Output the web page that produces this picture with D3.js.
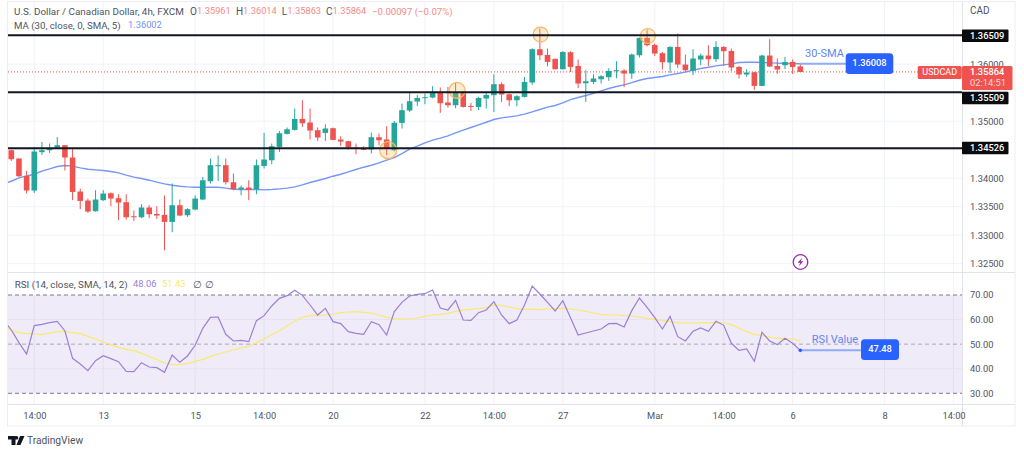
<!DOCTYPE html>
<html>
<head>
<meta charset="utf-8">
<script src="https://cdn.jsdelivr.net/npm/d3@7"></script>
<style>
    html, body {margin: 0; padding: 0; background: #fff;}
    svg {display: block;}
    text {font-family: Roboto, sans-serif;}
</style>
</head>
<body>
<div id="chart"></div>
<script>
// USD/CAD 4h candles, open high low close in 1e-5 price points
const ohlc = [
[134491,134500,134303,134333],[134345,134350,134022,134035],[134040,134128,133731,133784],[133784,134549,133742,134468],
[134456,134636,134408,134491],[134491,134608,134443,134531],[134538,134719,134535,134579],[134579,134579,134135,134363],
[134363,134538,133614,133759],[133766,133819,133456,133601],[133608,133643,133391,133415],[133421,133789,133412,133626],
[133614,133789,133601,133731],[133736,133749,133508,133643],[133649,133719,133263,133573],[133579,133719,133275,133315],
[133333,133433,133250,133315],[133315,133543,133298,133486],[133486,133526,133298,133368],[133373,133508,133286,133345],
[133356,133696,132736,133233],[133233,133907,133052,133526],[133526,133626,133333,133345],[133350,133473,133321,133456],
[133450,133696,133438,133643],[133626,134022,133614,133964],[133947,134345,133907,134228],[134210,134398,133952,134228],
[134228,134345,133889,133929],[133929,134082,133789,133807],[133807,133871,133701,133836],[133836,133964,133614,133794],
[133807,134328,133719,134228],[134215,134794,134170,134328],[134315,134608,134245,134561],[134549,134829,134461,134789],
[134777,134889,134766,134859],[134847,135222,134836,135040],[135040,135368,134900,134964],[134977,135222,134679,134836],
[134842,134889,134654,134714],[134794,134947,134654,134872],[134877,134889,134666,134672],[134679,134736,134566,134643],
[134649,134654,134503,134538],[134538,134608,134421,134514],[134514,134561,134491,134503],[134503,134801,134433,134719],
[134719,134784,134579,134666],[134679,134912,134403,134517],[134491,135005,134473,134973],[134970,135310,134872,135193],
[135187,135496,135163,135350],[135345,135456,135268,135408],[135403,135486,135298,135421],[135415,135614,135403,135514],
[135514,135591,135145,135315],[135328,135601,135240,135280],[135280,135672,135228,135514],[135514,135526,135240,135250],
[135268,135321,135180,135250],[135250,135426,135193,135408],[135398,135514,135222,135461],[135456,135824,135163,135649],
[135649,135679,135338,135468],[135473,135486,135263,135368],[135368,135456,135263,135438],[135426,135777,135415,135689],
[135679,136280,135636,136263],[136263,136626,136070,136157],[136163,136275,135964,136040],[136093,136100,135907,135912],
[135912,136228,135907,136215],[136210,136228,135864,135952],[135970,136082,135579,135661],[135666,135894,135338,135701],
[135689,135824,135649,135749],[135736,135807,135661,135789],[135772,135929,135707,135882],[135882,136052,135754,135894],
[135889,135912,135601,135836],[135836,136187,135742,136170],[136157,136468,136117,136461],[136461,136608,136315,136333],
[136338,136363,136145,136187],[136193,136215,135907,136035],[136029,136315,135847,136303],[136303,136538,135935,135994],
[135994,136170,135864,135894],[135882,136263,135807,136100],[136082,136187,135982,136152],[136152,136333,135970,136087],
[136087,136403,136040,136303],[136303,136315,135970,136228],[136233,136275,135882,135942],[135952,135970,135749,135819],
[135819,135912,135777,135854],[135859,135864,135549,135619],[135619,136163,135614,136152],[136152,136438,135947,135959],
[135970,136100,135829,135907],[135982,136128,135912,136040],[136040,136082,135829,135952],[135961,136014,135863,135864]
];

// 30 SMA, first value sits one bar left of the first candle
const sma = [133906,133947,134006,134041,134070,134123,134164,134205,134222,134211,134181,134158,134146,134134,134117,
134094,134053,134018,133994,133965,133930,133901,133877,133860,133848,133842,133842,133842,133842,133825,133807,133801,
133801,133801,133795,133801,133813,133825,133848,133883,133924,133959,133994,134035,134070,134111,134152,134193,134228,
134269,134316,134363,134433,134509,134561,134620,134667,134702,134743,134795,134842,134889,134936,134982,135029,135058,
135076,135094,135123,135164,135205,135246,135275,135322,135380,135415,135450,135491,135532,135573,135608,135637,135678,
135719,135749,135766,135784,135813,135836,135860,135895,135924,135947,135971,135988,136006,136029,136035,136035,136029,
136023,136018,136012,136012,136008];

const rsi = [59.83,55.76,50.61,46.0,57.53,58.07,58.75,59.29,55.36,44.24,41.93,39.22,43.29,45.32,44.10,42.88,38.95,38.81,
42.47,40.71,40.44,38.54,45.59,42.61,45.19,49.53,56.44,60.92,61.05,54.0,51.29,51.56,51.02,59.56,61.59,65.53,68.64,69.73,
71.90,69.86,65.93,61.86,64.58,59.15,58.34,55.08,54.41,54.0,59.15,57.93,53.73,63.22,67.02,69.59,70.27,70.54,72.03,64.71,
63.9,67.83,59.83,59.69,62.81,63.9,67.29,61.86,58.34,59.83,65.93,73.66,70.41,67.02,63.49,67.69,60.78,53.73,54.54,55.36,
56.17,58.34,58.47,56.98,63.63,68.78,64.98,60.78,56.17,61.32,53.05,51.29,55.22,56.58,55.22,59.29,57.66,50.34,47.49,48.03,
43.02,54.81,51.29,49.80,52.37,50.34,47.48];

const rsiMa = [57.12,55.63,54.81,54.27,54.14,53.86,54.54,55.08,55.22,54.68,54.27,53.19,52.10,50.88,49.80,48.71,47.90,47.36,
46.27,45.05,43.69,42.34,41.80,41.66,42.07,43.02,43.83,44.92,46.0,46.81,47.63,48.44,49.12,50.61,52.10,53.86,55.49,57.39,
59.42,60.92,61.59,61.59,61.86,62.27,62.81,63.08,63.22,62.95,62.68,61.86,60.92,60.37,60.24,60.24,60.64,61.32,61.86,62.14,
62.54,63.36,63.9,64.17,64.44,64.85,65.93,65.8,65.12,64.44,64.17,64.17,64.03,64.31,64.44,64.58,64.31,63.9,63.36,62.68,62.0,
61.86,61.86,61.59,61.46,61.05,60.51,60.1,59.69,59.15,58.75,58.61,58.61,58.75,58.75,58.75,58.61,57.93,56.58,55.08,53.86,
53.46,52.92,52.37,52.37,52.10,51.43];

const levels = [1.36509, 1.35509, 1.34526];
// orange circles, bar index + price
const circles = [
    {i: 49.2, p: 1.34491, r: 8.5},
    {i: 58.2, p: 1.35541, r: 8},
    {i: 69.1, p: 1.36520, r: 7.5},
    {i: 83.1, p: 1.36495, r: 7.5}
];

const width = 1024;
const height = 454;
const left = 8, right = 962, axisRight = 1015;
const red = "#ef5350", green = "#26a69a", blue = "#7796f5", tagBlue = "#2962ff";
const grey = "#50535e", gridCol = "#f0f3fa", border = "#e0e3eb";
const numSize = 9.3, textSize = 10;

let svg = d3.select("#chart")
            .append("svg")
            .attr("height", height)
            .attr("width", width);

let x = d3.scaleLinear().domain([0, 103]).range([11.3, 800.3]);
let y = d3.scaleLinear().domain([1.325, 1.365]).range([263.7, 35.7]);
let yRsi = d3.scaleLinear().domain([30, 70]).range([393.3, 295]);

svg.append("clipPath").attr("id", "plot")
    .append("rect").attr("x", left).attr("y", 0).attr("width", right - left).attr("height", 404);

// frame
svg.append("rect").attr("x", 7.5).attr("y", 1.5).attr("width", axisRight - 7.5).attr("height", 424.5)
    .style("fill", "none").style("stroke", "#eceef3");

// grid
const timeTicks = [3, 12, 24, 33, 42, 54, 63, 72, 84, 93, 102, 114, 123];
const timeNames = ["14:00", "13", "15", "14:00", "20", "22", "14:00", "27", "Mar", "14:00", "6", "8", "14:00"];
const priceTicks = [1.325, 1.33, 1.335, 1.34, 1.345, 1.35, 1.355, 1.36, 1.365];
const priceNames = [1.325, 1.33, 1.335, 1.34, 1.35, 1.36];

svg.append("g").selectAll("line").data(timeTicks).enter().append("line")
    .attr("x1", d => x(d)).attr("x2", d => x(d)).attr("y1", 2).attr("y2", 404)
    .style("stroke", gridCol);
svg.append("g").selectAll("line").data(priceTicks).enter().append("line")
    .attr("x1", left).attr("x2", right).attr("y1", d => y(d)).attr("y2", d => y(d))
    .style("stroke", gridCol);

// pane borders
[[left, axisRight, 272.5, 272.5], [left, axisRight, 404.5, 404.5], [right + 0.5, right + 0.5, 2, 426]].forEach(function(s) {
    svg.append("line").attr("x1", s[0]).attr("x2", s[1]).attr("y1", s[2]).attr("y2", s[3]).style("stroke", border);
});

// rsi pane background
svg.append("rect").attr("x", left).attr("width", right - left)
    .attr("y", yRsi(70)).attr("height", yRsi(30) - yRsi(70))
    .style("fill", "#7e57c2").style("opacity", 0.12);
svg.append("g").selectAll("line").data([40, 60]).enter().append("line")
    .attr("x1", left).attr("x2", right).attr("y1", d => yRsi(d)).attr("y2", d => yRsi(d))
    .style("stroke", "#e6e3f0");
svg.append("g").selectAll("line").data([30, 50, 70]).enter().append("line")
    .attr("x1", left).attr("x2", right).attr("y1", d => yRsi(d)).attr("y2", d => yRsi(d))
    .style("stroke", d => d == 50 ? "#a9a8b2" : "#787b86")
    .style("stroke-dasharray", "4,3");

let plot = svg.append("g").attr("clip-path", "url(#plot)");

// last price dotted line
plot.append("line").attr("x1", left).attr("x2", 918).attr("y1", y(1.35864)).attr("y2", y(1.35864))
    .style("stroke", red).style("stroke-dasharray", "1,2");

// sma drawn under the candles
let smaLine = d3.line().x((d, i) => x(i - 1)).y(d => y(d / 1e5));
plot.append("path").attr("d", smaLine(sma))
    .style("fill", "none").style("stroke", blue).style("stroke-width", 1.4);

// candles
let candles = plot.append("g").selectAll("g").data(ohlc).enter().append("g");
candles.append("line")
    .attr("x1", (d, i) => x(i)).attr("x2", (d, i) => x(i))
    .attr("y1", d => y(d[1] / 1e5)).attr("y2", d => y(d[2] / 1e5))
    .style("stroke", d => d[3] >= d[0] ? green : red);
candles.append("rect")
    .attr("x", (d, i) => x(i) - 2.8).attr("width", 5.6)
    .attr("y", d => y(Math.max(d[0], d[3]) / 1e5))
    .attr("height", d => Math.max(1, Math.abs(y(d[0] / 1e5) - y(d[3] / 1e5))))
    .style("fill", d => d[3] >= d[0] ? green : red);

// support and resistance
svg.append("g").selectAll("line").data(levels).enter().append("line")
    .attr("x1", left).attr("x2", right).attr("y1", d => y(d)).attr("y2", d => y(d))
    .style("stroke", "#131722").style("stroke-width", 2);

plot.append("g").selectAll("circle").data(circles).enter().append("circle")
    .attr("cx", d => x(d.i)).attr("cy", d => y(d.p)).attr("r", d => d.r)
    .style("fill", "#ffb74d").style("fill-opacity", 0.28)
    .style("stroke", "#f7b768").style("stroke-width", 1.2);

// rsi lines
let rsiLine = d3.line().x((d, i) => x(i - 1)).y(d => yRsi(d));
plot.append("path").attr("d", rsiLine(rsiMa))
    .style("fill", "none").style("stroke", "#fbe96f").style("stroke-width", 1.2);
plot.append("path").attr("d", rsiLine(rsi))
    .style("fill", "none").style("stroke", "#9b7fd6").style("stroke-width", 1.2);

// axes
let timeAxis = d3.axisBottom(x).tickValues(timeTicks).tickSize(0).tickPadding(0)
    .tickFormat((d, i) => timeNames[i]);
let gt = svg.append("g").attr("transform", "translate(0,412)").call(timeAxis);
gt.select(".domain").remove();
gt.selectAll("text").style("font-size", numSize + "px").style("fill", grey);

let priceAxis = d3.axisRight(y).tickValues(priceNames).tickSize(0).tickPadding(0)
    .tickFormat(d3.format(".5f"));
let gp = svg.append("g").attr("transform", "translate(970,0)").call(priceAxis);
gp.select(".domain").remove();
gp.selectAll("text").style("font-size", numSize + "px").style("fill", grey);

let rsiAxis = d3.axisRight(yRsi).tickValues([30, 40, 50, 60, 70]).tickSize(0).tickPadding(0)
    .tickFormat(d3.format(".2f"));
let gr = svg.append("g").attr("transform", "translate(970,0)").call(rsiAxis);
gr.select(".domain").remove();
gr.selectAll("text").style("font-size", numSize + "px").style("fill", grey);

function label(tx, ty, s, col, size, anchor) {
    return svg.append("text").attr("x", tx).attr("y", ty).text(s)
        .attr("dominant-baseline", "middle")
        .style("fill", col).style("font-size", (size || textSize) + "px")
        .style("text-anchor", anchor || "start");
}
label(970, 11, "CAD", grey, 10);

// black level tags
[[1.36509, 29.5], [1.35509, 91.7], [1.34526, 141.7]].forEach(function(t) {
    svg.append("rect").attr("x", right).attr("y", t[1]).attr("width", 46.5).attr("height", 12.5).attr("rx", 1).style("fill", "#0b0b0e");
    label(970, t[1] + 6.6, t[0].toFixed(5), "#fff", numSize).style("font-weight", 500);
});

// red last price tags
svg.append("rect").attr("x", 917.7).attr("y", 66).attr("width", 44).attr("height", 13).attr("rx", 1.5).style("fill", red);
label(939.7, 72.8, "USDCAD", "#fff", 9, "middle");
svg.append("rect").attr("x", right).attr("y", 66).attr("width", 50.5).attr("height", 24).attr("rx", 1.5).style("fill", red);
label(970, 73, "1.35864", "#fff", numSize).style("font-weight", 500);
label(970, 83.7, "02:14:51", "#ffd5d4", numSize);

// 30-SMA callout
svg.append("line").attr("x1", x(103)).attr("x2", 846).attr("y1", y(1.36008)).attr("y2", y(1.36008))
    .style("stroke", "#8fabf9").style("stroke-width", 2);
label(824.5, 54.5, "30-SMA", "#5f86f5", 11, "middle");
svg.append("rect").attr("x", 845.7).attr("y", 53.3).attr("width", 47.6).attr("height", 20.7).attr("rx", 3.5).style("fill", tagBlue);
label(869.5, 64, "1.36008", "#fff", numSize, "middle").style("font-weight", 500);

// RSI callout
svg.append("line").attr("x1", x(103)).attr("x2", 861).attr("y1", yRsi(47.48)).attr("y2", yRsi(47.48))
    .style("stroke", "#8fabf9").style("stroke-width", 2);
svg.append("circle").attr("cx", x(103)).attr("cy", yRsi(47.48)).attr("r", 1.8).style("fill", tagBlue);
label(835, 340.5, "RSI Value", "#5f86f5", 11, "middle");
svg.append("rect").attr("x", 861).attr("y", 339.3).attr("width", 38).attr("height", 20.7).attr("rx", 3.5).style("fill", tagBlue);
label(880, 350, "47.48", "#fff", numSize, "middle").style("font-weight", 500);

// legends
label(14, 12, "U.S. Dollar / Canadian Dollar, 4h, FXCM", grey, 9.9);
[["O", 190], ["H", 236], ["L", 281.7], ["C", 326]].forEach(function(k) {
    label(k[1], 12, k[0], grey, textSize);
});
label(197, 12, "1.35961", "#f58a88", numSize);
label(243, 12, "1.36014", "#f58a88", numSize);
label(287.3, 12, "1.35863", "#f58a88", numSize);
label(332.5, 12, "1.35864", "#f58a88", numSize);
label(372, 12, "\u22120.00097 (\u22120.07%)", "#f58a88", 9.6);
label(14, 26, "MA (30, close, 0, SMA, 5)", grey, 9.7);
label(128, 26, "1.36002", "#6f92f6", numSize);
label(14.7, 285, "RSI (14, close, SMA, 14, 2)", grey, 9.8);
label(133, 285, "48.06", "#9b7fd6", numSize);
label(162, 285, "51.43", "#fbe96f", numSize);
label(193, 285, "\u2205", grey, 10);
label(205, 285, "\u2205", grey, 10);

// lightning badge
svg.append("circle").attr("cx", 800.5).attr("cy", 262).attr("r", 7.3)
    .style("fill", "#fff").style("stroke", "#9c27b0").style("stroke-width", 1.3);
svg.append("path").attr("d", "M802.5 257.5 L797.5 262.8 L800.3 262.8 L798.5 266.5 L803.5 261.2 L800.7 261.2 Z")
    .style("fill", "#9c27b0");

// TradingView logo
svg.append("path").attr("d", "M8 436 H15.5 V445 H11.5 V439.6 H8 Z M16.5 439.6 a1.8 1.8 0 1 1 0.01 0 Z M20 436 H24.5 L20.5 445 H16.5 Z")
    .style("fill", "#131722");
label(27, 441, "TradingView", "#50535e", 10.2);
</script>
</body>
</html>
